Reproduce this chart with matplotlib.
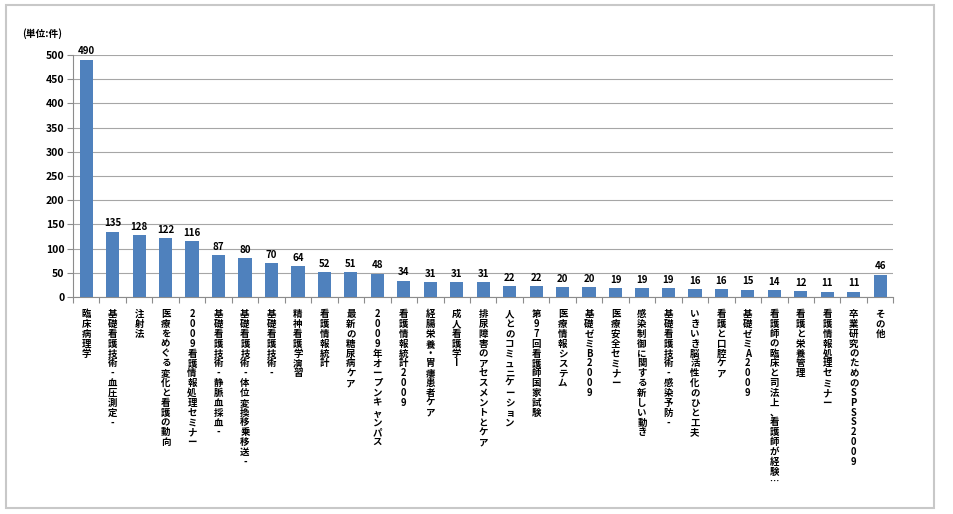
import matplotlib
matplotlib.use("Agg")
import matplotlib.pyplot as plt
from matplotlib.patches import Rectangle

plt.rcParams['font.family'] = ['Noto Sans CJK JP', 'DejaVu Sans']

categories = [
    "臨床病理学", "基礎看護技術-血圧測定-", "注射法", "医療をめぐる変化と看護の動向",
    "2009看護情報処理セミナー", "基礎看護技術-静脈血採血-", "基礎看護技術-体位変換 移乗 移送-",
    "基礎看護技術-", "精神看護学演習", "看護情報統計", "最新の糖尿病ケア",
    "2009年オープンキャンパス", "看護情報統計2009", "経腸栄養・胃瘻患者ケア", "成人看護学Ⅰ",
    "排尿障害のアセスメントとケア", "人とのコミュニケーション", "第97回看護師国家試験",
    "医療情報システム", "基礎ゼミB 2009", "医療安全セミナー", "感染制御に関する新しい動き",
    "基礎看護技術-感染予防-", "いきいき脳活性化のひと工夫", "看護と口腔ケア", "基礎ゼミA 2009",
    "看護師の臨床と司法上、看護師が経験…", "看護と栄養管理", "看護情報処理セミナー",
    "卒業研究のためのSPSS2009", "その他",
]
values = [490, 135, 128, 122, 116, 87, 80, 70, 64, 52, 51, 48, 34, 31, 31, 31,
          22, 22, 20, 20, 19, 19, 19, 16, 16, 15, 14, 12, 11, 11, 46]
yticks = [0, 50, 100, 150, 200, 250, 300, 350, 400, 450, 500]
unit_label = "(単位:件)"

fig = plt.figure(figsize=(9.54, 5.14), dpi=100)
fig.patches.append(Rectangle((0.006, 0.012), 0.973, 0.978, transform=fig.transFigure,
                             fill=False, edgecolor='#c8c8c8', linewidth=1.5))
ax = fig.add_axes([0.0765, 0.422, 0.86, 0.471])

x = list(range(len(values)))
ax.bar(x, values, width=0.5, color='#4f81bd', zorder=3)
for xi, v in zip(x, values):
    ax.text(xi, v + 7, str(v), ha='center', va='bottom', fontsize=7, fontweight='bold', zorder=4)

ax.set_ylim(0, 500)
ax.set_xlim(-0.5, len(values) - 0.5)
ax.set_yticks(yticks)
ax.set_yticklabels([str(t) for t in yticks], fontsize=7.5, fontweight='bold')
ax.yaxis.grid(True, color='#a6a6a6', linewidth=0.8, zorder=0)
ax.set_axisbelow(True)

for s in ['top', 'right']:
    ax.spines[s].set_visible(False)
ax.spines['left'].set_color('#8c8c8c')
ax.spines['bottom'].set_color('#8c8c8c')
ax.tick_params(axis='y', length=4, color='#8c8c8c', pad=2)

ax.set_xticks([i - 0.5 for i in range(len(values) + 1)], minor=False)
ax.set_xticklabels([])
ax.tick_params(axis='x', length=4, color='#8c8c8c')

for xi, lab in zip(x, categories):
    vtxt = "\n".join(ch for ch in lab if ch != " ")
    ax.text(xi, -0.05, vtxt, transform=ax.get_xaxis_transform(), ha='center', va='top',
            fontsize=6.8, fontweight='bold', linespacing=0.98, multialignment='center')

fig.text(0.023, 0.935, unit_label, fontsize=7, fontweight='bold', ha='left', va='center')

fig.savefig("out.png", dpi=100)
